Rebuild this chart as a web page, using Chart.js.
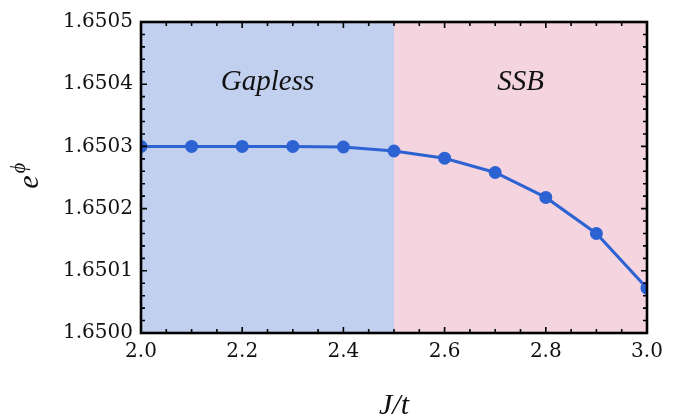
<!DOCTYPE html>
<html><head><meta charset="utf-8">
<script src="https://cdn.jsdelivr.net/npm/chart.js@4"></script>
<style>html,body{margin:0;padding:0;background:#fff}#w{width:688px;height:419px}</style>
</head><body><div id="w"><canvas id="c"></canvas></div>
<script>
const xValues = [2.0, 2.1, 2.2, 2.3, 2.4, 2.5, 2.6, 2.7, 2.8, 2.9, 3.0];
const yValues = [1.65030, 1.65030, 1.65030, 1.65030, 1.650299, 1.6502926, 1.650281, 1.650258, 1.650218, 1.650160, 1.650072];
const regions = [
  {from: 2.0, to: 2.5, label: 'Gapless', color: 'rgb(194,208,240)'},
  {from: 2.5, to: 3.0, label: 'SSB', color: 'rgb(243,212,223)'}
];
const xLabel = 'J/t';
const yLabelBase = 'e';
const yLabelSup = 'ϕ';

const tickFont = '"DejaVu Serif", "Liberation Serif", serif';
const lserif = '"Liberation Serif", "DejaVu Serif", serif';

const decor = {
  id: 'decor',
  beforeDatasetsDraw(chart) {
    const {ctx, chartArea: a, scales: {x, y}} = chart;
    ctx.save();
    regions.forEach(r => {
      const x0 = x.getPixelForValue(r.from), x1 = x.getPixelForValue(r.to);
      ctx.fillStyle = r.color;
      ctx.fillRect(x0, a.top, x1 - x0, a.bottom - a.top);
      ctx.fillStyle = '#111';
      ctx.font = 'italic 29px ' + lserif;
      ctx.textAlign = 'center';
      ctx.textBaseline = 'alphabetic';
      ctx.fillText(r.label, (x0 + x1) / 2, a.top + 68);
    });
    ctx.restore();
  },
  afterDatasetsDraw(chart) {
    const {ctx, chartArea: a, scales: {x, y}} = chart;
    ctx.save();
    ctx.strokeStyle = '#000';
    ctx.lineWidth = 1.6;
    x.ticks.forEach(t => {
      const px = x.getPixelForValue(t.value);
      const major = Math.round(t.value * 100) % 20 === 0;
      const L = major ? 6 : 4;
      ctx.beginPath();
      ctx.moveTo(px, a.bottom); ctx.lineTo(px, a.bottom - L);
      ctx.moveTo(px, a.top); ctx.lineTo(px, a.top + L);
      ctx.stroke();
    });
    y.ticks.forEach(t => {
      const py = y.getPixelForValue(t.value);
      const major = Math.round(t.value * 1e5) % 10 === 0;
      const L = major ? 6 : 4;
      ctx.beginPath();
      ctx.moveTo(a.left, py); ctx.lineTo(a.left + L, py);
      ctx.moveTo(a.right, py); ctx.lineTo(a.right - L, py);
      ctx.stroke();
    });
    ctx.lineWidth = 2.6;
    ctx.strokeRect(a.left, a.top, a.right - a.left, a.bottom - a.top);
    // axis titles
    ctx.fillStyle = '#111';
    ctx.font = 'italic 30px ' + lserif;
    ctx.textAlign = 'center';
    ctx.textBaseline = 'alphabetic';
    ctx.fillText(xLabel, (a.left + a.right) / 2, 414);
    ctx.translate(38, 180);
    ctx.rotate(-Math.PI / 2);
    ctx.font = 'italic 30px ' + lserif;
    ctx.fillText(yLabelBase, -2, 0);
    ctx.font = 'italic 20px ' + lserif;
    ctx.fillText(yLabelSup, 12, -13);
    ctx.restore();
  }
};

new Chart(document.getElementById('c'), {
  type: 'line',
  data: {
    datasets: [{
      data: xValues.map((v, i) => ({x: v, y: yValues[i]})),
      borderColor: 'rgb(45,98,210)',
      backgroundColor: 'rgb(45,98,210)',
      borderWidth: 3,
      pointRadius: 5,
      pointHoverRadius: 5,
      tension: 0,
      clip: 0
    }]
  },
  options: {
    responsive: true,
    maintainAspectRatio: false,
    animation: false,
    events: [],
    layout: {padding: {top: 22, right: 41, left: 0, bottom: 0}},
    plugins: {legend: {display: false}, tooltip: {enabled: false}},
    scales: {
      x: {
        type: 'linear', min: 2.0, max: 3.0,
        grid: {display: false, drawTicks: false},
        border: {display: false},
        afterFit: s => { s.height = 86; },
        ticks: {
          stepSize: 0.05, autoSkip: false, maxRotation: 0, padding: 7,
          color: '#111', font: {family: tickFont, size: 20},
          callback: v => (Math.round(v * 100) % 20 === 0) ? v.toFixed(1) : ''
        }
      },
      y: {
        type: 'linear', min: 1.6500, max: 1.6505,
        grid: {display: false, drawTicks: false},
        border: {display: false},
        afterFit: s => { s.width = 141; },
        ticks: {
          stepSize: 0.00002, autoSkip: false, padding: 8,
          color: '#111', font: {family: tickFont, size: 20},
          callback: v => (Math.round(v * 1e5) % 10 === 0) ? v.toFixed(4) : ''
        }
      }
    }
  },
  plugins: [decor]
});
</script>
</body></html>
